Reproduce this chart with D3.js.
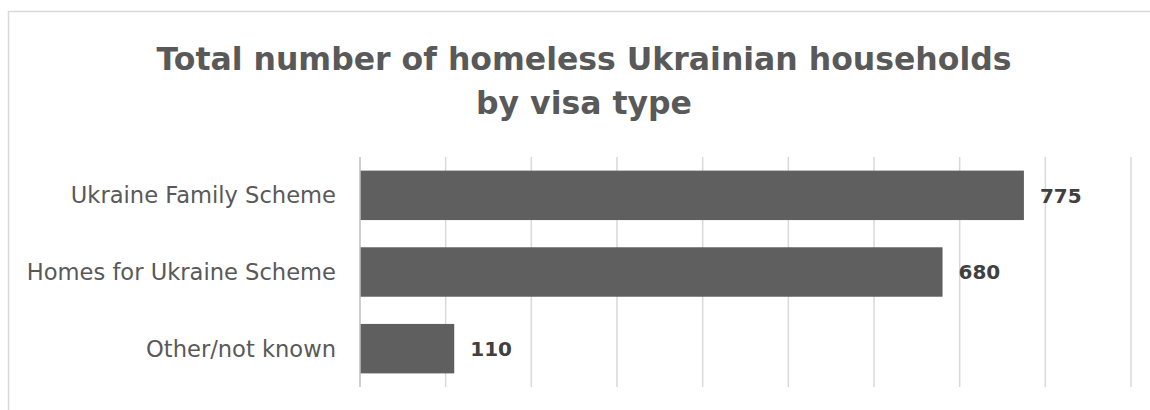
<!DOCTYPE html>
<html><head><meta charset="utf-8">
<script src="https://cdn.jsdelivr.net/npm/d3@7"></script>
<style>body{margin:0;background:#fff}svg{display:block}</style>
</head><body>
<svg id="c" width="1150" height="410"></svg>
<script>
const categories = ["Ukraine Family Scheme", "Homes for Ukraine Scheme", "Other/not known"];
const values = [775, 680, 110];
const xTicks = [0, 100, 200, 300, 400, 500, 600, 700, 800, 900];
const titleLines = ["Total number of homeless Ukrainian households", "by visa type"];

const svg = d3.select("#c");
const font = "'DejaVu Sans', sans-serif";

svg.append("rect").attr("x", 8.5).attr("y", 11.5).attr("width", 1160).attr("height", 420)
  .attr("fill", "#fff").attr("stroke", "#d9d9d9").attr("stroke-width", 1.5);

const x = d3.scaleLinear().domain([0, 900]).range([360, 1131]);
const y = d3.scaleBand().domain(categories).range([157, 387]).paddingInner(0.355).paddingOuter(0.1775);

// gridlines
svg.append("g").selectAll("line").data(xTicks.slice(1)).join("line")
  .attr("x1", d => x(d)).attr("x2", d => x(d)).attr("y1", 157).attr("y2", 387)
  .attr("stroke", "#d9d9d9").attr("stroke-width", 1.5);

// bars
svg.append("g").selectAll("rect").data(values).join("rect")
  .attr("x", x(0)).attr("y", (d, i) => y(categories[i]))
  .attr("width", d => x(d) - x(0)).attr("height", y.bandwidth())
  .attr("fill", "#5f5f5f");

// axis line
svg.append("line").attr("x1", x(0)).attr("x2", x(0)).attr("y1", 157).attr("y2", 387)
  .attr("stroke", "#bfbfbf").attr("stroke-width", 1.5);

// category labels
svg.append("g").selectAll("text").data(categories).join("text")
  .attr("x", 336).attr("y", d => y(d) + y.bandwidth() / 2)
  .attr("dy", "0.35em").attr("text-anchor", "end")
  .attr("font-family", font).attr("font-size", 22.6).attr("fill", "#595959")
  .text(d => d);

// value labels
svg.append("g").selectAll("text").data(values).join("text")
  .attr("x", d => x(d) + 16).attr("y", (d, i) => y(categories[i]) + y.bandwidth() / 2)
  .attr("dy", "0.36em")
  .attr("font-family", font).attr("font-size", 20).attr("font-weight", "bold").attr("fill", "#404040")
  .text(d => d);

// title
svg.append("g").selectAll("text").data(titleLines).join("text")
  .attr("x", 584).attr("y", (d, i) => 70 + i * 44)
  .attr("text-anchor", "middle")
  .attr("font-family", font).attr("font-size", 31.5).attr("font-weight", "bold").attr("fill", "#595959")
  .text(d => d);
</script>
</body></html>
